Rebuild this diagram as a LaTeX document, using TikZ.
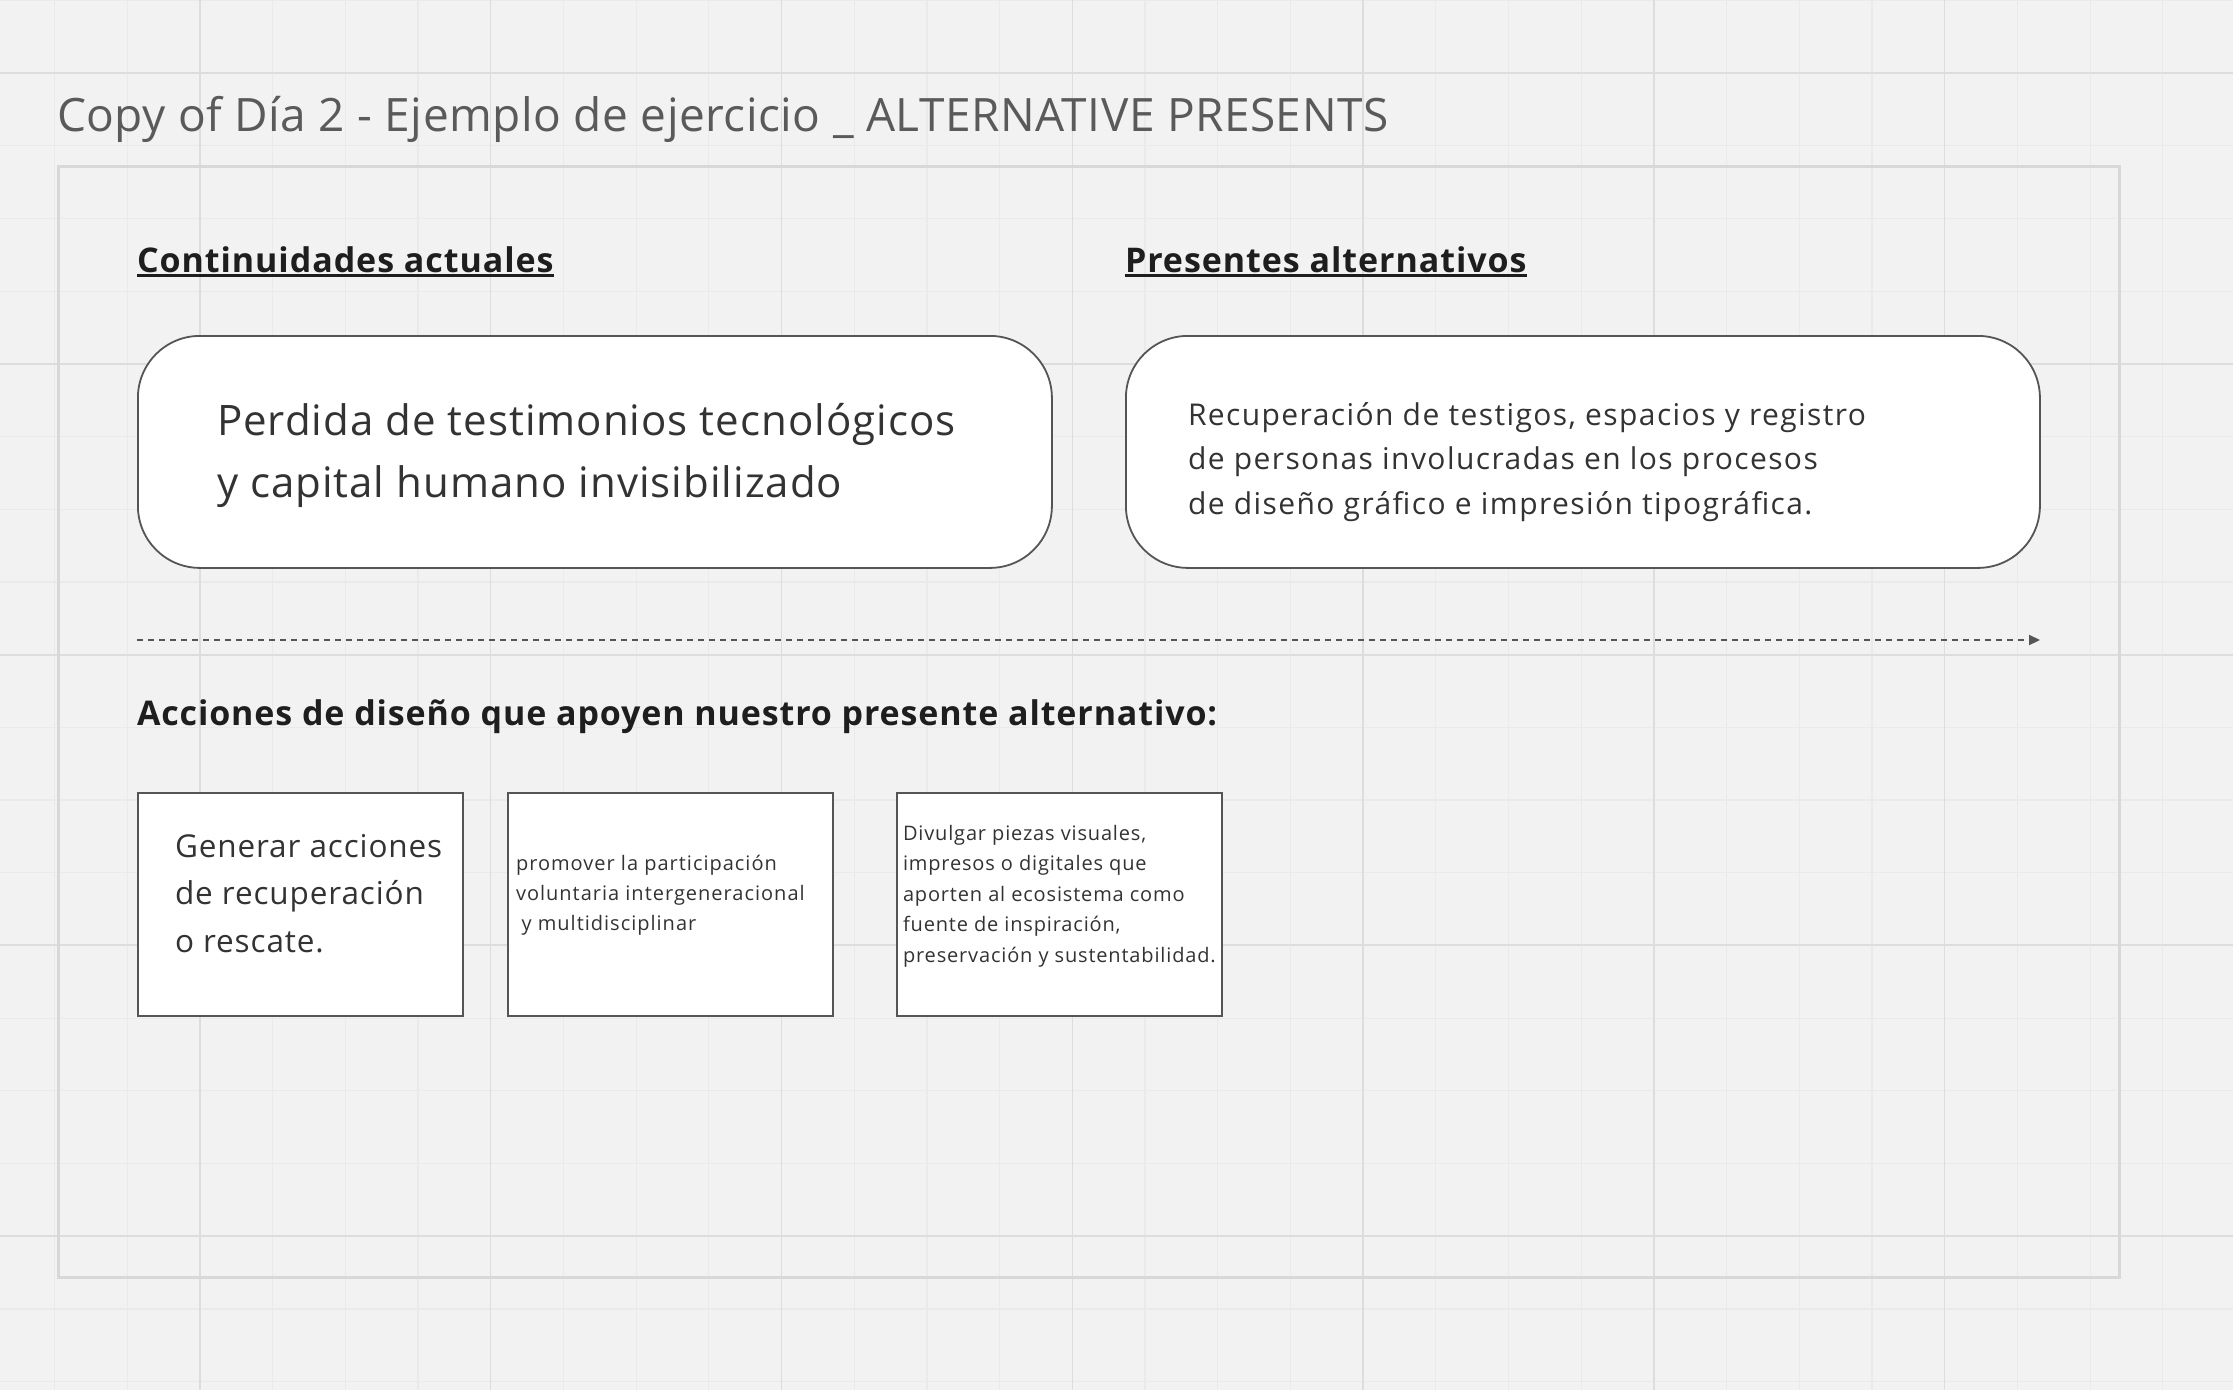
\documentclass[tikz,border=0pt]{standalone}
\usepackage{fontspec}
\setmainfont{Open Sans}
\usetikzlibrary{arrows.meta}
\definecolor{bg}{HTML}{F2F2F2}
\definecolor{gridminor}{HTML}{EAEAEA}
\definecolor{gridmajor}{HTML}{DDDDDD}
\definecolor{framec}{HTML}{D8D8D8}
\definecolor{titlec}{HTML}{5A5A5A}
\definecolor{ink}{HTML}{333333}
\definecolor{headc}{HTML}{1E1E1E}
\definecolor{edge}{HTML}{555555}
\newcommand{\fsz}[3]{\fontsize{#1}{#2}\selectfont\addfontfeature{LetterSpace=#3}}
\tikzset{
  tnode/.style={inner sep=0pt, outer sep=0pt, anchor=base west, align=left, text=ink},
  rbox/.style={draw=edge, fill=white, line width=1.8pt, rounded corners=62pt, inner sep=0pt, anchor=north west, minimum width=914pt, minimum height=232pt},
  sbox/.style={draw=edge, fill=white, line width=2pt, inner sep=0pt, anchor=north west, minimum width=325pt, minimum height=223pt},
  hdr/.style={tnode, text=headc, font=\bfseries\fsz{34}{42}{2.8}},
  uline/.style={headc, line width=2.4pt},
  flow/.style={edge, line width=2pt, dash pattern=on 6pt off 5pt, -{Triangle[length=11pt,width=10pt]}}
}
\begin{document}
\begin{tikzpicture}[x=1pt,y=-1pt]
\fill[bg] (0,0) rectangle (2233,1390);
\useasboundingbox (0,0) rectangle (2233,1390);
% grid
\foreach \i in {0,...,30} {
  \pgfmathsetmacro\xx{54.5+72.7*\i}
  \draw[gridminor, line width=1.2pt] (\xx,0) -- (\xx,1390);
}
\foreach \i in {0,...,19} {
  \pgfmathsetmacro\yy{0.3+72.7*\i}
  \draw[gridminor, line width=1.2pt] (0,\yy) -- (2233,\yy);
}
\foreach \i in {2,6,...,30} {
  \pgfmathsetmacro\xx{54.5+72.7*\i}
  \draw[gridmajor, line width=1.5pt] (\xx,0) -- (\xx,1390);
}
\foreach \i in {1,5,...,17} {
  \pgfmathsetmacro\yy{0.3+72.7*\i}
  \draw[gridmajor, line width=2pt] (0,\yy) -- (2233,\yy);
}
% frame
\node[draw=framec, line width=3pt, inner sep=0pt, anchor=north west, minimum width=2061pt, minimum height=1111pt] (frame) at (57,165) {};
% title
\node[tnode, text=titlec, font=\fsz{46}{56}{1.1}] (title) at (57,131) {Copy of Día 2 - Ejemplo de ejercicio \_ ALTERNATIVE PRESENTS};
% headers
\node[hdr] (h1) at (137,272) {Continuidades actuales};
\node[hdr] (h2) at (1125,272) {Presentes alternativos};
\draw[uline] ([yshift=-3.5pt]h1.base west) -- ([yshift=-3.5pt]h1.base east);
\draw[uline] ([yshift=-3.5pt]h2.base west) -- ([yshift=-3.5pt]h2.base east);
% rounded boxes
\node[rbox] (box1) at (137,335) {};
\node[rbox] (box2) at (1125,335) {};
\node[tnode, font=\fsz{42}{62}{2.4}] (t1) at (217,497) {Perdida de testimonios tecnológicos\\y capital humano invisibilizado};
\node[tnode, font=\fsz{30}{44.5}{4.7}] (t2) at (1188,514) {Recuperación de testigos, espacios y registro\\de personas involucradas en los procesos\\de diseño gráfico e impresión tipográfica.};
% dashed arrow
\coordinate (aS) at (137,640);
\coordinate (aE) at (2040,640);
\draw[flow] (aS) -- (aE);
% actions header
\node[tnode, text=headc, font=\bfseries\fsz{34}{42}{2.6}] (h3) at (137,725) {Acciones de diseño que apoyen nuestro presente alternativo:};
% small boxes
\node[sbox] (sa) at (137,792) {};
\node[sbox] (sb) at (507,792) {};
\node[sbox] (sc) at (896,792) {};
\node[tnode, font=\fsz{31.5}{47.5}{2.8}] (ta) at (175,952) {Generar acciones\\de recuperación\\o rescate.};
\node[tnode, font=\fsz{20}{30}{5}] (tb) at (516,930) {promover la participación\\voluntaria intergeneracional\\\hspace*{0.28em}y multidisciplinar};
\node[tnode, font=\fsz{20}{30.5}{4.2}] (tc) at (903,962) {Divulgar piezas visuales,\\impresos o digitales que\\aporten al ecosistema como\\fuente de inspiración,\\preservación y sustentabilidad.};
\end{tikzpicture}
\end{document}
